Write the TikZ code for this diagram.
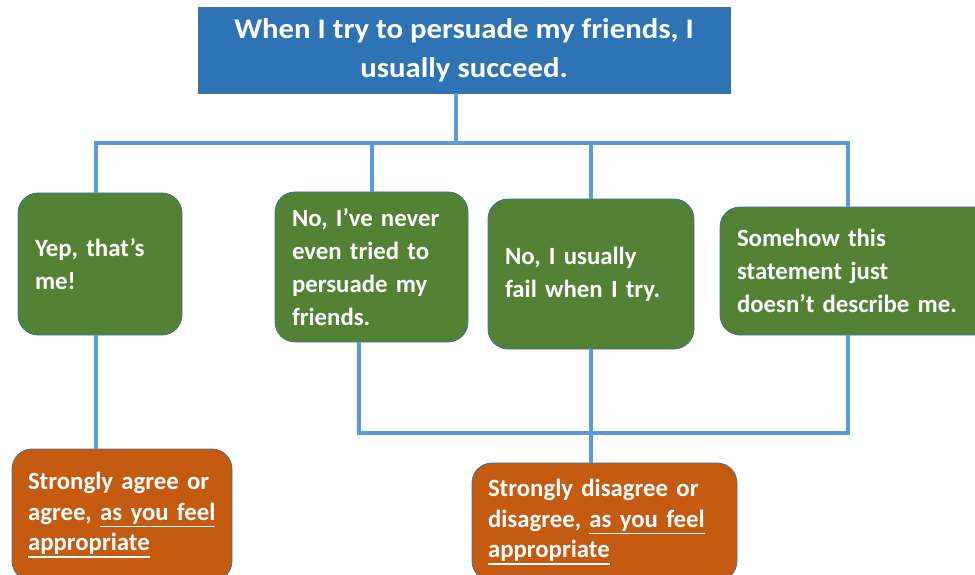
\documentclass[tikz,border=0pt]{standalone}
\usepackage{fontspec}
\setmainfont{Carlito}
\newfontfamily\stmtfont{Carlito}[FakeStretch=1.08]
\usepackage{tikz}
\usepackage{xcolor}
\usetikzlibrary{calc,positioning}

\newcommand{\undertext}[1]{\leavevmode\setbox0\hbox{#1}\rlap{\rule[-7pt]{\wd0}{1.4pt}}\box0}

\definecolor{stmtblue}{HTML}{2E74B5}
\definecolor{answergreen}{HTML}{548235}
\definecolor{resultorange}{HTML}{C55A11}
\definecolor{linkblue}{HTML}{5B9BD5}
\definecolor{edgeblue}{HTML}{41719C}

\tikzset{
	stmtbox/.style={draw=edgeblue, line width=0.8pt, fill=stmtblue, text=white, align=center,
		font=\stmtfont\bfseries\fontsize{28.5}{39}\selectfont},
	answerbox/.style={draw=edgeblue, line width=0.8pt, fill=answergreen, text=white, align=left,
		rounded corners=20pt, inner xsep=17pt, font=\bfseries\fontsize{24.8}{33}\selectfont},
	resultbox/.style={answerbox, fill=resultorange, inner xsep=16pt, font=\bfseries\fontsize{24.8}{30.5}\selectfont},
	link/.style={draw=linkblue, line width=4pt}
}

\begin{document}
\begin{tikzpicture}[x=1pt,y=-1pt]
		\useasboundingbox (0,0) rectangle (975,575);
		\clip (0,0) rectangle (975,575);
		% statement
		\node[stmtbox, minimum width=532pt, minimum height=86pt] (stmt) at (464,50)
			{When I try to persuade my friends, I\\ usually succeed.};
		% answers
		\node[answerbox, text width=130pt, minimum height=142pt] (yep) at (100,264)
			{Yep, that’s\\ me!};
		\node[answerbox, text width=159pt, minimum height=150pt] (never) at (371.5,267)
			{No, I’ve never\\ even tried to\\ persuade my\\ friends.};
		\node[answerbox, text width=172pt, minimum height=150pt] (fail) at (591,274)
			{No, I usually\\ fail when I try.};
		\node[answerbox, text width=246pt, minimum height=128pt] (somehow) at (860,271)
			{Somehow this\\ statement just\\ doesn’t describe me.};
		% results
		\node[resultbox, text width=188pt, minimum height=132pt] (agree) at (122,515)
			{Strongly agree or\\ agree, \undertext{as you feel}\\ \undertext{appropriate}};
		\node[resultbox, text width=233pt, minimum height=118pt] (disagree) at (604.5,522)
			{Strongly disagree or\\ disagree, \undertext{as you feel}\\ \undertext{appropriate}};
		% connectors
		\coordinate (bus) at (456,143);
		\coordinate (join) at (359,433);
		\draw[link] (stmt.south -| bus) -- (bus);
		\draw[link] ([xshift=-4pt]yep.north) |- ([xshift=-12pt]somehow.north |- bus) -- ([xshift=-12pt]somehow.north);
		\draw[link] (never.north) -- (never.north |- bus);
		\draw[link] (fail.north) -- (fail.north |- bus);
		\draw[link] (never.south -| join) |- ([xshift=-12pt]somehow.south |- join) -- ([xshift=-12pt]somehow.south);
		\draw[link] ([xshift=-4pt]yep.south) -- ([xshift=-4pt]yep.south |- agree.north);
		\draw[link] (fail.south) -- (fail.south |- disagree.north);
		\end{tikzpicture}
\end{document}
